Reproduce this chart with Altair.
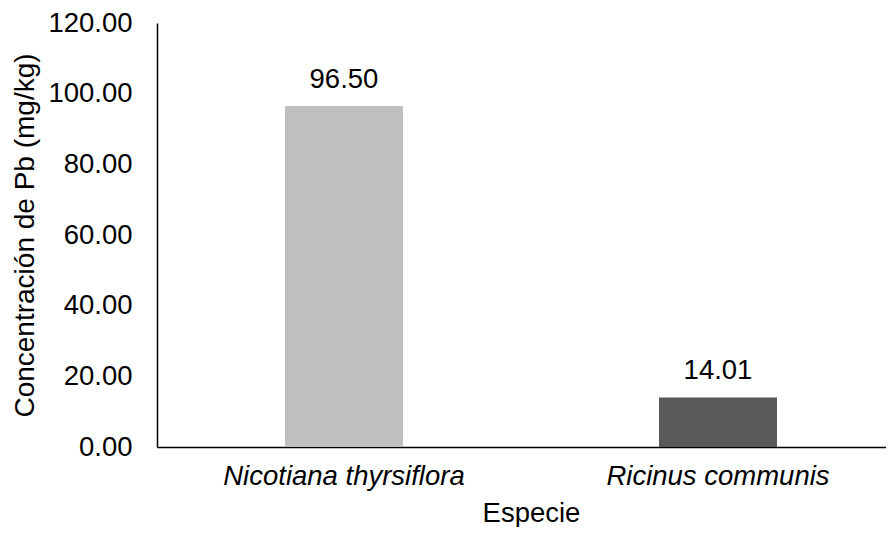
import altair as alt
import pandas as pd

species = ["Nicotiana thyrsiflora", "Ricinus communis"]
values = [96.50, 14.01]
colors = ["#bfbfbf", "#595959"]

df = pd.DataFrame({"Especie": species, "Valor": values, "Color": colors})

FONT = "Liberation Sans"
FS = 27.5

xscale = alt.Scale(paddingInner=0.6845, paddingOuter=0.3168, align=0.540)

base = alt.Chart(df).encode(
    x=alt.X("Especie:N", sort=species, scale=xscale,
            axis=alt.Axis(title="Especie", labelAngle=0, labelFontStyle="italic",
                          labelFontSize=FS, labelPadding=15, labelLimit=0, ticks=False,
                          domainColor="#000000", domainWidth=1.5,
                          titleFontSize=FS, titleFontWeight="normal",
                          titleX=374, titleY=74, titleBaseline="alphabetic",
                          titleAlign="center")),
    y=alt.Y("Valor:Q", scale=alt.Scale(domain=[0, 120], nice=False),
            axis=alt.Axis(title="Concentración de Pb (mg/kg)", format=".2f",
                          values=[0, 20, 40, 60, 80, 100, 120], grid=False,
                          ticks=False, labelFontSize=FS, labelPadding=25,
                          domainColor="#000000", domainWidth=1.5,
                          titleFontSize=28, titleFontWeight="normal",
                          titleAngle=-90, titleX=-132, titleY=212,
                          titleAlign="center", titleBaseline="middle")),
)

bars = base.mark_bar().encode(color=alt.Color("Color:N", scale=None))
labels = base.mark_text(dy=-18, baseline="alphabetic", fontSize=FS, font=FONT,
                        color="#000000").encode(text=alt.Text("Valor:Q", format=".2f"))

chart = (bars + labels).properties(
    width=729, height=424,
    autosize=alt.AutoSizeParams(type="none"),
    padding={"left": 149, "top": 15, "right": 0, "bottom": 80},
).configure(font=FONT).configure_view(stroke=None).configure_axis(
    labelColor="#000000", titleColor="#000000", labelFont=FONT, titleFont=FONT
)

chart.save("out.html", embed_options={"renderer": "svg", "actions": False})
